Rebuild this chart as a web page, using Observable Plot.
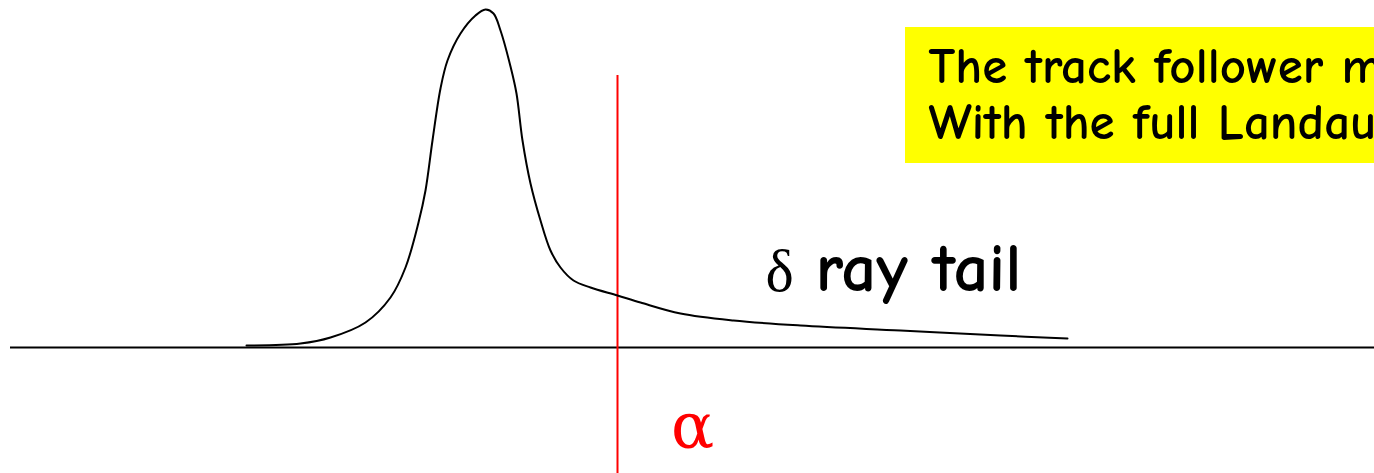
<!DOCTYPE html>
<html>
<head>
<meta charset="utf-8">
<script src="https://cdn.jsdelivr.net/npm/d3@7"></script>
<script src="https://cdn.jsdelivr.net/npm/@observablehq/plot@0.6"></script>
<style>
  html, body { margin: 0; padding: 0; background: #fff; overflow: hidden; }
  #chart svg { display: block; max-width: none; }
</style>
</head>
<body>
<div id="chart"></div>
<script>
// Landau-shaped energy-loss distribution with a long delta-ray tail
const energyLoss = [246, 300, 330, 365, 390, 405, 418, 425, 432, 440, 447, 460, 475, 485, 493, 500, 510, 516, 522, 530, 540, 550, 560, 573, 590, 617, 640, 680, 733, 800, 900, 1000, 1067];
const counts     = [2, 4, 10, 25, 50, 80, 125, 157, 207, 259, 287, 314, 332, 338, 334, 317, 281, 254, 207, 164, 127, 97, 80, 67, 60, 52, 45, 34, 27, 22, 17, 12, 9];

// truncation cut
const alphaCut = [617];

// annotation texts
const noteLines = ["The track follower must deal", "With the full Landau distribution"];
const tailLabel = ["ray tail"];

const curve = energyLoss.map((e, i) => ({e, c: counts[i]}));

const FONT = '"Comic Sans MS", "Comic Neue", "DejaVu Sans", sans-serif';
const SERIF = '"DejaVu Serif", "Liberation Serif", serif';

const chart = Plot.plot({
  width: 1374,
  height: 473,
  margin: 0,
  x: {domain: [0, 1374], axis: null},
  y: {domain: [-126, 347], axis: null},
  marks: [
    // note box
    Plot.rect([0], {x1: 905, x2: 1400, y1: 184, y2: 320, fill: "#ffff00"}),
    Plot.text(noteLines, {
      x: 928, y: (d, i) => [265, 209][i], text: d => d,
      textAnchor: "start", lineAnchor: "bottom",
      fontSize: 51, fontWeight: "bold", fontFamily: FONT, fill: "#000"
    }),
    // baseline
    Plot.ruleY([0], {x1: 10, x2: 1374, stroke: "#000", strokeWidth: 2}),
    // cut line
    Plot.ruleX(alphaCut, {y1: -126, y2: 272, stroke: "#ff0000", strokeWidth: 2}),
    Plot.text(alphaCut, {
      x: d => d + 75, y: -100, text: () => "α",
      textAnchor: "middle", lineAnchor: "bottom",
      fontSize: 64, fontFamily: SERIF, fill: "#ff0000"
    }),
    // distribution
    Plot.line(curve, {x: "e", y: "c", curve: "catmull-rom", stroke: "#000", strokeWidth: 2}),
    // tail label
    Plot.text(["δ"], {
      x: 765, y: 57, text: d => d, textAnchor: "start", lineAnchor: "bottom",
      fontSize: 60, fontFamily: '"Liberation Serif", serif', fill: "#000"
    }),
    Plot.text(tailLabel, {
      x: 815, y: 57, text: d => d, textAnchor: "start", lineAnchor: "bottom",
      fontSize: 69, fontWeight: "bold", fontFamily: FONT, fill: "#000"
    })
  ]
});
document.getElementById("chart").append(chart);
</script>
</body>
</html>
